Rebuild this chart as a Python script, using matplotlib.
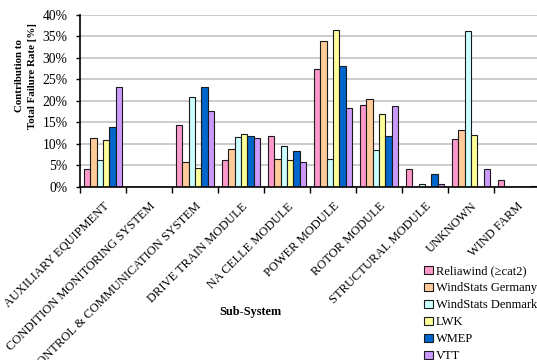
import numpy as np
import matplotlib.pyplot as plt
from matplotlib.patches import Patch

plt.rcParams["font.family"] = ["Liberation Serif", "DejaVu Serif"]

subsystems = [
    "AUXILIARY EQUIPMENT",
    "CONDITION MONITORING SYSTEM",
    "CONTROL & COMMUNICATION SYSTEM",
    "DRIVE TRAIN MODULE",
    "NA CELLE MODULE",
    "POWER MODULE",
    "ROTOR MODULE",
    "STRUCTURAL MODULE",
    "UNKNOWN",
    "WIND FARM",
]

sources = ["Reliawind (\u2265cat2)", "WindStats Germany", "WindStats Denmark", "LWK", "WMEP", "VTT"]

# share of total failure rate, in percent
reliawind = [4.1, 0.0, 14.4, 6.1, 11.8, 27.3, 19.0, 4.0, 11.0, 1.4]
windstats_de = [11.2, 0.0, 5.6, 8.7, 6.5, 34.0, 20.5, 0.0, 13.2, 0.0]
windstats_dk = [6.2, 0.0, 20.9, 11.5, 9.5, 6.3, 8.4, 0.5, 36.2, 0.0]
lwk = [10.8, 0.0, 4.4, 12.3, 6.1, 36.5, 17.0, 0.0, 12.1, 0.0]
wmep = [13.8, 0.0, 23.1, 11.7, 8.2, 28.0, 11.7, 2.9, 0.0, 0.0]
vtt = [23.3, 0.0, 17.5, 11.3, 5.8, 18.3, 18.8, 0.5, 4.0, 0.2]

series = [reliawind, windstats_de, windstats_dk, lwk, wmep, vtt]
colors = ["#FF99CC", "#FFCC99", "#CCFFFF", "#FFFF99", "#0066CC", "#CC99FF"]

fig = plt.figure(figsize=(5.37, 3.6), dpi=100)
ax = fig.add_axes([80 / 537, 1 - 186.5 / 360, 460 / 537, 171.5 / 360])

x = np.arange(len(subsystems))
w = 0.139
for i, (vals, c) in enumerate(zip(series, colors)):
    ax.bar(x + (i - 2.5) * w, vals, width=w, color=c, edgecolor="#1a1a1a",
           linewidth=0.8, zorder=3, label=sources[i])

ax.set_xlim(-0.5, len(subsystems) - 0.5)
ax.set_ylim(0, 40)
ax.set_yticks(np.arange(0, 41, 5))
ax.set_yticklabels([f"{v}%" for v in range(0, 41, 5)], fontsize=9.8)
ax.yaxis.grid(True, color="#C4C4C4", linewidth=1.2, zorder=0)

# boundary ticks between categories, labels at the centres
ax.set_xticks(np.arange(-0.5, len(subsystems), 1.0))
ax.set_xticklabels([])
ax.set_xticks(x, minor=True)
ax.set_xticklabels(subsystems, minor=True, rotation=45, ha="right", va="top",
                   rotation_mode="anchor", fontsize=9.0)
ax.tick_params(axis="x", which="minor", length=0, pad=10)
ax.tick_params(axis="x", which="major", length=4, width=1, direction="out")
ax.tick_params(axis="y", length=3, width=1, direction="out", pad=6)

for s in ["top", "right"]:
    ax.spines[s].set_visible(False)
for s in ["left", "bottom"]:
    ax.spines[s].set_linewidth(1.2)
    ax.spines[s].set_zorder(4)

fig.text(26 / 537, 1 - 76 / 360, "Contribution to\nTotal Failure Rate [%]",
         rotation=90, ha="center", va="center", ma="center",
         fontsize=7.8, fontweight="bold", linespacing=1.45)
fig.text(250 / 537, 1 - 312 / 360, "Sub-System", ha="center", va="center",
         fontsize=8.8, fontweight="bold")

handles = [Patch(facecolor=c, edgecolor="#1a1a1a", linewidth=0.8) for c in colors]
fig.legend(handles, sources, loc="upper left", bbox_to_anchor=(418 / 537, 1 - 259 / 360),
           frameon=False, fontsize=9, handlelength=0.7, handleheight=0.7,
           handletextpad=0.25, labelspacing=0.4, borderpad=0)

fig.savefig("out.png", dpi=100)
